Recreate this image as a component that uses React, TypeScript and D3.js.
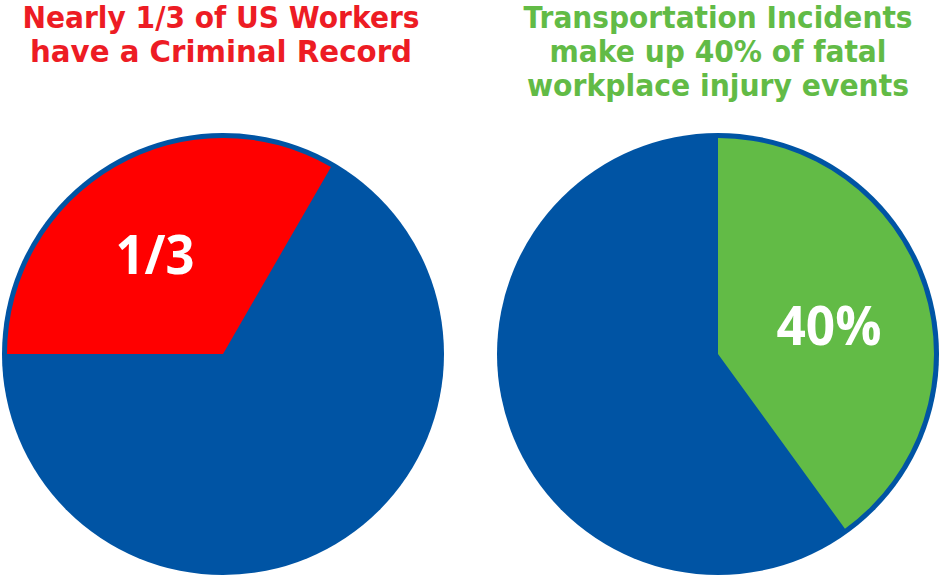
import React from "react";
import * as d3 from "d3";

const pieNames = ["criminal", "transport"];
const sliceValues = [1 / 3, 0.4];
const restValues = [2 / 3, 0.6];
const sliceLabels = ["1/3", "40%"];
const labelWidths = [79, 105];
const startAngles = [-Math.PI / 2, 0];
const titleLines = [
  ["Nearly 1/3 of US Workers", "have a Criminal Record"],
  ["Transportation Incidents", "make up 40% of fatal", "workplace injury events"],
];
const titleWidths = [
  [397, 382],
  [389, 337, 382],
];
const sliceColors = ["#FF0000", "#62BB46"];
const titleColors = ["#ED1C24", "#62BB46"];
const BLUE = "#0054A4";

export default function App() {
  const W = 940, H = 576;
  const R = 221;
  const centers = [[223, 354], [718, 354]];
  const labelPos = [[-0.308, -0.362], [0.502, -0.04]];
  return (
    <svg width={W} height={H} style={{ position: "absolute", left: 0, top: 0 }}>
      <rect width={W} height={H} fill="#fff" />
      {pieNames.map((name, i) => {
        const [cx, cy] = centers[i];
        const pie = d3.pie<number>().sort(null).startAngle(startAngles[i]).endAngle(startAngles[i] + 2 * Math.PI);
        const arcs = pie([sliceValues[i], restValues[i]]);
        const arcGen = d3.arc<any>().innerRadius(0).outerRadius(R - 5);
        const sl = arcs[0];
        const lx = cx + labelPos[i][0] * R;
        const ly = cy + labelPos[i][1] * R;
        return (
          <g key={name}>
            <circle cx={cx} cy={cy} r={R} fill={BLUE} />
            <path d={arcGen(sl) as string} transform={`translate(${cx},${cy})`} fill={sliceColors[i]} />
            <text x={lx} y={ly} textAnchor="middle" fill="#fff"
              textLength={labelWidths[i]} lengthAdjust="spacingAndGlyphs"
              style={{ fontFamily: "'Open Sans', sans-serif", fontWeight: 700, fontSize: 54 }}>
              {sliceLabels[i]}
            </text>
            {titleLines[i].map((t, j) => (
              <text key={j} x={i === 0 ? 221 : 718} y={28 + j * 34} textAnchor="middle" fill={titleColors[i]}
                textLength={titleWidths[i][j]} lengthAdjust="spacingAndGlyphs"
                style={{ fontFamily: "'DejaVu Sans', sans-serif", fontWeight: 700, fontSize: 30 }}>
                {t}
              </text>
            ))}
          </g>
        );
      })}
    </svg>
  );
}
